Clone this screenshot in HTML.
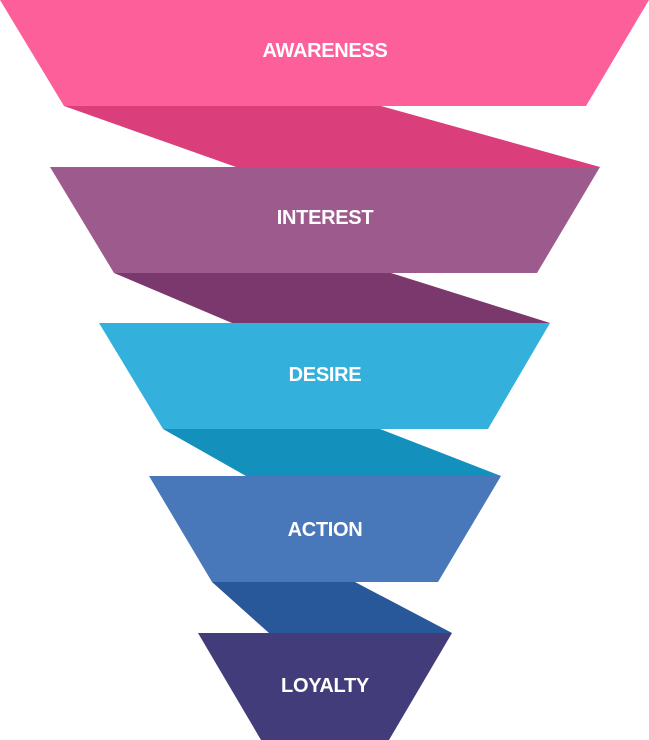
<!DOCTYPE html>
<html><head><meta charset="utf-8"><style>
html,body{margin:0;padding:0;background:#fff;}
svg{display:block}
text{font-family:"Liberation Sans",sans-serif;font-weight:bold;font-size:20px;fill:#fff;text-anchor:middle;dominant-baseline:central;letter-spacing:-0.3px}
</style></head><body>
<svg width="649" height="740" viewBox="0 0 649 740" xmlns="http://www.w3.org/2000/svg">
<polygon points="64,106 381,106 600,167 236,167" fill="#da3f7c"/>
<polygon points="0,0 649,0 586,106 64,106" fill="#fd5f9b"/>
<polygon points="114,273 391,273 550,323 232,323" fill="#7b386c"/>
<polygon points="50,167 600,167 537,273 114,273" fill="#9d5a8d"/>
<polygon points="163,429 380,429 501,476 246,476" fill="#1390bc"/>
<polygon points="99,323 550,323 488,429 163,429" fill="#33b1dc"/>
<polygon points="212,582 355,582 452,633 269,633" fill="#28579a"/>
<polygon points="149,476 501,476 438,582 212,582" fill="#4877ba"/>
<polygon points="198,633 452,633 389,740 261,740" fill="#433c7a"/>
<text x="325" y="51">AWARENESS</text>
<text x="325" y="218">INTEREST</text>
<text x="325" y="375">DESIRE</text>
<text x="325" y="530">ACTION</text>
<text x="325" y="686">LOYALTY</text>
</svg>
</body></html>
